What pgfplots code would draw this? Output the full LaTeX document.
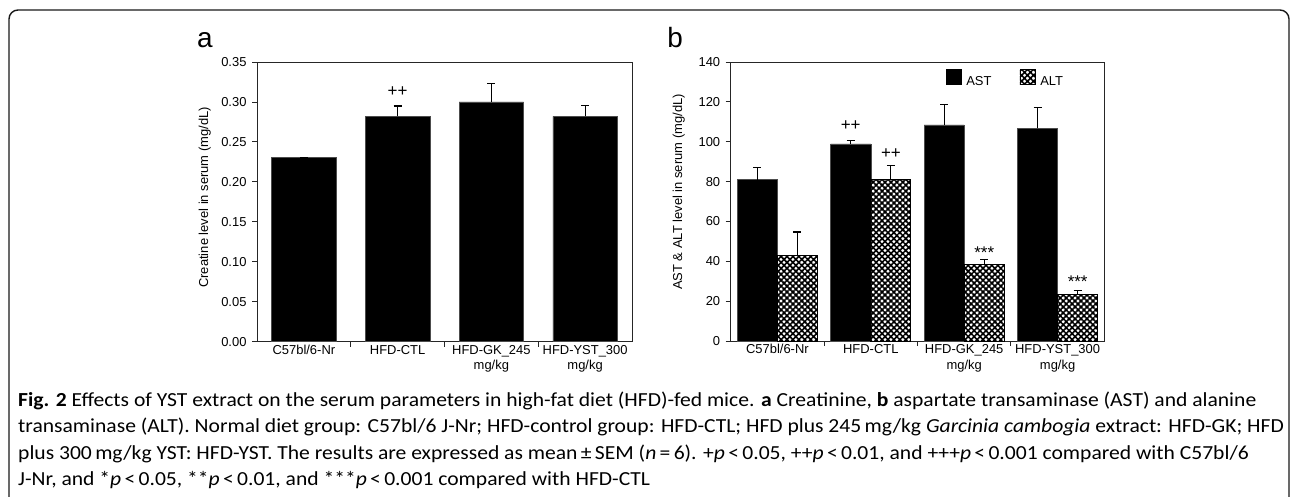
\documentclass[border=0pt]{standalone}
\usepackage{fontspec}
\setmainfont{Liberation Sans}
\newfontfamily\capfont[FakeStretch=1.083]{Carlito}
\usepackage{pgfplots}
\pgfplotsset{compat=1.18}
\usetikzlibrary{patterns.meta}

\pgfplotsset{
  myaxis/.style={
    scale only axis, anchor=south west,
    axis line style={line width=0.9bp, black!85},
    tick pos=left, tick align=outside,
    major tick length=5bp,
    tick style={line width=0.9bp, black!85},
    xmin=-0.5, xmax=3.5,
    xtick={0.5,1.5,2.5}, xticklabels={,,},
    extra x ticks={0,1,2,3},
    extra x tick labels={C57bl/6-Nr, HFD-CTL, HFD-GK\_245\\mg/kg, HFD-YST\_300\\mg/kg},
    extra x tick style={major tick length=0pt, tick label style={align=center, font=\fontsize{13}{15.5}\selectfont}},
    tick label style={font=\fontsize{13}{15.5}\selectfont},
    yticklabel style={xshift=-2bp},
    /pgf/number format/assume math mode=true,
    ymin=0,
    ybar,
  },
  errstyle/.style={error bars/.cd, y dir=plus, y explicit,
    error bar style={line width=1.1bp, black},
    error mark options={rotate=90, mark size=4bp, line width=1.1bp, black}},
}

\begin{document}
\begin{tikzpicture}
\useasboundingbox (0bp,0bp) rectangle (1290bp,-497bp);
\draw[line width=1.4bp, black!90, rounded corners=9bp] (9bp,-540bp) -- (9bp,-10bp) -- (1289bp,-10bp) -- (1289bp,-540bp);

% panel a
\begin{axis}[myaxis,
  at={(257bp,-341.7bp)}, width=375bp, height=279.7bp,
  ymax=0.35, ytick={0,0.05,...,0.35},
  yticklabel style={/pgf/number format/.cd, fixed, fixed zerofill, precision=2},
  ylabel={Creatine level in serum (mg/dL)},
  every axis y label/.style={at={(axis description cs:-0.139,0.516)}, rotate=90, anchor=center, font=\fontsize{13}{15.5}\selectfont},
]
\addplot[ybar, bar width=0.69, fill=black, draw=black!70, line width=0.5bp, errstyle]
  coordinates {(0,0.231) +- (0,0) (1,0.282) +- (0,0.013) (2,0.300) +- (0,0.023) (3,0.282) +- (0,0.0135)};
\node[anchor=base, font=\fontsize{17}{17}\selectfont] at (axis cs:1,0.3074) {++};
\end{axis}
\node[anchor=base, font=\fontsize{28}{28}\selectfont, inner sep=0pt] at (205bp,-47bp) {a};

% panel b
\begin{axis}[myaxis,
  at={(730.7bp,-341bp)}, width=373.6bp, height=279bp,
  ymax=140, ytick={0,20,...,140},
  ylabel={AST \& ALT level in serum (mg/dL)},
  every axis y label/.style={at={(axis description cs:-0.139,0.534)}, rotate=90, anchor=center, font=\fontsize{13}{15.5}\selectfont},
  legend columns=2,
  legend image code/.code={\draw[#1, draw=black, line width=0.8bp] (0bp,-2.85bp) rectangle (15bp,12.15bp);},
  legend style={at={(axis description cs:0.5745,0.9416)}, anchor=west, draw=none, fill=none,
    inner sep=0pt, nodes={inner sep=0pt}, font=\fontsize{13}{15.5}\selectfont,
    /tikz/every odd column/.append style={column sep=5bp},
    /tikz/every even column/.append style={column sep=28bp}},
]
\addplot[ybar, bar width=0.43, bar shift=-0.215, fill=black, draw=black!70, line width=0.5bp, errstyle]
  coordinates {(0,81) +- (0,5.9) (1,98.9) +- (0,1.6) (2,108.4) +- (0,10.1) (3,106.7) +- (0,10.5)};
\addlegendentry{AST}
\addplot[ybar, bar width=0.43, bar shift=0.215, draw=black, line width=1bp,
  pattern={Hatch[angle=45, distance=4.2bp, line width=1.6bp]}, pattern color=black, errstyle]
  coordinates {(0,43) +- (0,11.7) (1,80.9) +- (0,7.3) (2,38.6) +- (0,2.4) (3,23.4) +- (0,2.1)};
\addlegendentry{ALT}
\node[anchor=base, font=\fontsize{17}{17}\selectfont] at (axis cs:0.785,105.5) {++};
\node[anchor=base, font=\fontsize{17}{17}\selectfont] at (axis cs:1.215,91.6) {++};
\node[anchor=base, font=\fontsize{17}{17}\selectfont] at (axis cs:2.215,41.2) {***};
\node[anchor=base, font=\fontsize{17}{17}\selectfont] at (axis cs:3.215,26.6) {***};
\end{axis}
\node[anchor=base, font=\fontsize{28}{28}\selectfont, inner sep=0pt] at (675bp,-47bp) {b};

% caption
\begin{scope}[every node/.style={anchor=base west, inner sep=0pt, font=\capfont\fontsize{20}{22}\selectfont}]
\node at (18bp,-406bp) {\textbf{Fig. 2} Effects of YST extract on the serum parameters in high-fat diet (HFD)-fed mice. \textbf{a} Creatinine, \textbf{b} aspartate transaminase (AST) and alanine};
\node at (18bp,-432.5bp) {transaminase (ALT). Normal diet group: C57bl/6 J-Nr; HFD-control group: HFD-CTL; HFD plus 245\,mg/kg \textit{Garcinia cambogia} extract: HFD-GK; HFD};
\node at (18bp,-459bp) {plus 300\,mg/kg YST: HFD-YST. The results are expressed as mean\,±\,SEM (\textit{n}\,=\,6). +\textit{p}\,<\,0.05, ++\textit{p}\,<\,0.01, and +++\textit{p}\,<\,0.001 compared with C57bl/6};
\node at (18bp,-485bp) {J-Nr, and *\textit{p}\,<\,0.05, **\textit{p}\,<\,0.01, and ***\textit{p}\,<\,0.001 compared with HFD-CTL};
\end{scope}
\end{tikzpicture}
\end{document}
